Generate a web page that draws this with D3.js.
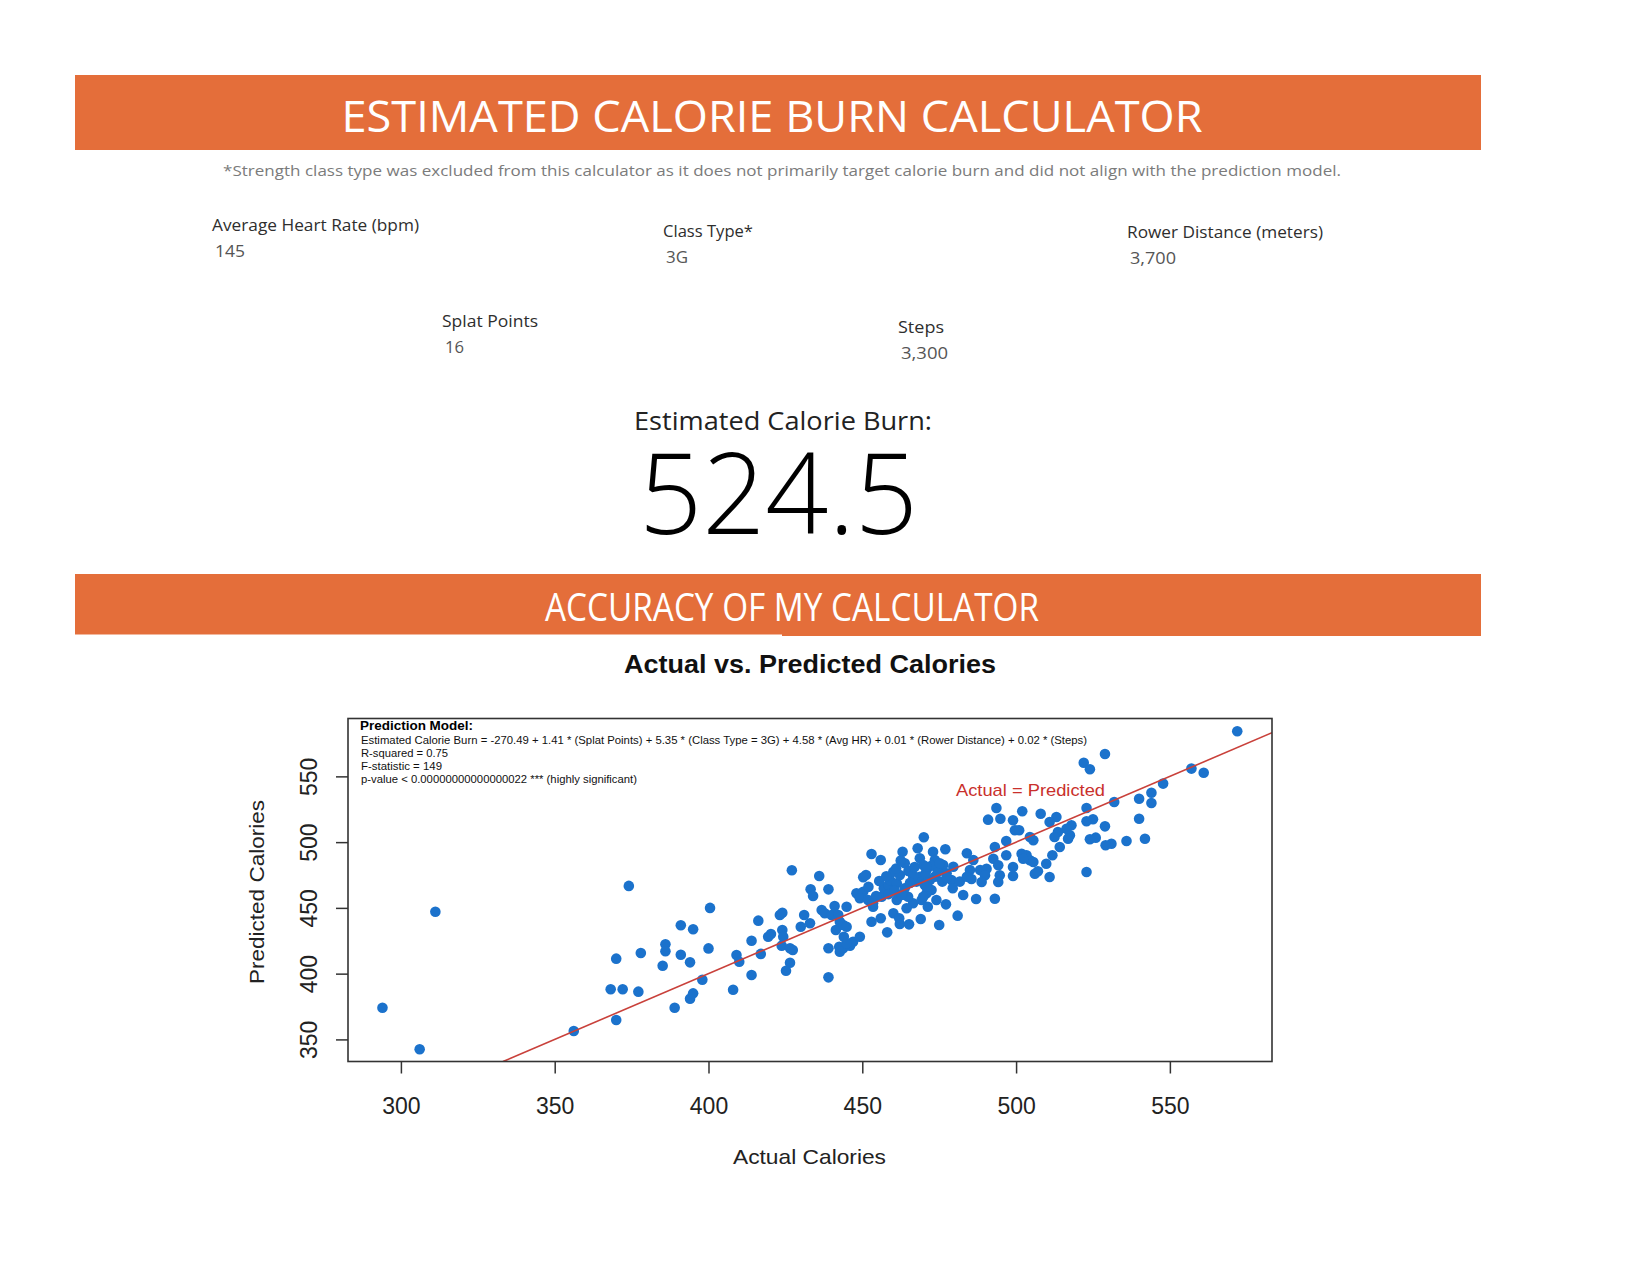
<!DOCTYPE html>
<html>
<head>
<meta charset="utf-8">
<script src="https://cdn.jsdelivr.net/npm/d3@7"></script>
<style>
  html, body { margin: 0; padding: 0; background: #ffffff; }
  svg { display: block; }
</style>
</head>
<body>
<div id="chart"></div>
<script>
// ---------------- DATA ----------------
const pageTitle = "ESTIMATED CALORIE BURN CALCULATOR";
const footnote = "*Strength class type was excluded from this calculator as it does not primarily target calorie burn and did not align with the prediction model.";
const inputLabels = ["Average Heart Rate (bpm)", "Class Type*", "Rower Distance (meters)", "Splat Points", "Steps"];
const inputValues = ["145", "3G", "3,700", "16", "3,300"];
const resultLabel = "Estimated Calorie Burn:";
const resultValue = "524.5";
const sectionTitle = "ACCURACY OF MY CALCULATOR";
const chartTitle = "Actual vs. Predicted Calories";
const xAxisLabel = "Actual Calories";
const yAxisLabel = "Predicted Calories";
const xTicks = [300, 350, 400, 450, 500, 550];
const yTicks = [350, 400, 450, 500, 550];
const modelLines = [
  "Estimated Calorie Burn = -270.49 + 1.41 * (Splat Points) + 5.35 * (Class Type = 3G) + 4.58 * (Avg HR) + 0.01 * (Rower Distance) + 0.02 * (Steps)",
  "R-squared = 0.75",
  "F-statistic = 149",
  "p-value < 0.00000000000000022 *** (highly significant)"
];
const modelHeading = "Prediction Model:";
const refLineLabel = "Actual = Predicted";

const actualCalories = [
  294.0,306.1,311.2,374.1,356.2,370.0,368.2,372.1,377.2,370.0,378.0,385.1,386.0,386.0,391.0,395.0,391.0,394.0,389.0,394.0,395.0,398.0,400.5,400.0,
  408.0,409.1,410.0,414.0,414.0,417.0,416.2,419.4,420.3,423.2,424.0,424.0,424.3,423.8,426.5,427.4,426.5,425.2,427.1,430.0,433.0,431.1,433.2,434.0,436.0,439.0,
  439.0,439.0,436.8,437.8,440.0,441.0,442.5,442.7,443.8,446.0,447.0,449.2,441.4,442.7,443.8,444.9,444.0,442.2,444.9,448.1,450.3,449.2,450.3,451.2,453.0,456.0,
  451.9,453.5,453.0,456.0,458.1,456.3,457.0,458.5,459.0,460.1,461.2,462.2,463.1,463.8,461.2,460.1,462.0,462.2,465.2,466.5,464.9,463.8,468.0,470.0,468.7,469.8,
  470.9,468.7,467.6,470.3,472.0,472.5,470.9,469.3,471.3,469.0,473.0,473.6,474.7,473.6,475.0,474.1,477.0,476.3,477.4,479.0,479.4,477.2,481.0,482.8,481.7,484.0,
  485.0,486.1,484.0,487.0,
  455.5,457.8,461.0,462.5,465.0,466.5,467.0,470.5,472.5,474.5,476.0,477.5,471.0,465.5,458.5,460.5,463.0,475.2,479.6,488.3,485.5,452.0,454.5,444.9,453.5,
  462.8,464.4,470.9,469.8,470.9,
  571.9,528.9,522.0,524.0,557.0,561.0,547.8,544.0,544.0,540.0,531.9,540.0,541.9,535.9,531.0,529.1,528.9,525.9,524.0,522.9,525.0,522.9,522.9,518.0,517.5,516.4,
  516.9,514.2,513.1,510.9,508.0,513.6,512.5,511.8,509.8,510.9,506.1,507.1,505.6,504.5,504.5,503.4,501.8,502.3,505.6,502.0,499.0,499.6,501.0,496.8,499.0,499.0,
  496.8,494.9,493.6,490.9,493.1,492.6,494.2,490.4,489.9,494.7,494.2,488.8,493.1
];
const predictedCalories = [
  374.1,342.5,447.1,466.7,356.4,364.8,388.1,388.1,386.3,411.4,415.7,406.0,422.3,417.0,436.8,433.7,414.4,408.6,374.1,381.0,385.0,395.4,450.0,419.2,
  387.8,414.2,409.1,399.0,425.0,415.0,440.3,428.1,430.2,444.6,446.3,433.2,428.1,421.3,419.3,418.0,408.3,402.2,478.6,435.7,438.3,444.6,464.1,459.0,474.3,464.1,
  397.2,419.3,448.4,445.9,444.6,451.4,420.5,416.7,419.3,421.3,424.3,428.1,433.2,439.5,437.0,435.7,428.1,444.6,450.9,461.1,462.3,457.3,473.3,475.0,491.0,486.4,
  456.0,450.9,439.5,442.1,431.4,458.5,464.9,467.4,471.2,477.5,468.7,475.0,492.7,483.9,456.0,445.9,442.1,437.8,437.5,453.5,458.5,464.9,495.3,503.7,487.7,482.6,
  478.8,473.7,470.0,467.4,471.2,463.6,461.1,456.0,450.9,441.6,492.7,486.4,480.1,473.7,437.0,456.0,494.6,482.6,476.3,471.2,464.9,452.7,444.1,459.8,470.0,491.5,
  478.8,486.4,473.7,456.8,
  470.5,474.0,480.0,486.0,478.0,474.5,481.0,476.0,482.0,477.0,470.0,473.0,469.0,469.0,460.5,463.0,460.5,483.9,481.3,478.8,472.0,466.0,459.0,423.0,453.5,
  459.8,449.7,466.1,458.5,481.3,
  584.3,567.0,560.4,555.4,555.9,552.8,544.5,537.6,529.8,533.0,530.5,517.8,502.6,500.9,498.8,497.6,512.0,503.4,502.2,526.0,517.4,515.9,477.3,512.8,505.2,510.2,
  502.6,496.3,519.1,515.3,521.6,507.7,503.9,490.0,483.6,473.5,476.0,477.8,501.4,503.9,486.2,490.0,491.2,487.4,484.9,523.5,516.6,509.0,509.0,500.9,481.1,474.3,
  490.0,517.8,526.0,517.1,496.3,487.4,482.4,479.8,474.8,474.8,469.7,469.7,457.0
];

// ---------------- PAGE ----------------
const W = 1650, H = 1275;
const ORANGE = "#E46E3A";
const TAB_FONT = "'Open Sans', 'Noto Sans', sans-serif";
const R_FONT = "'Liberation Sans', Arial, sans-serif";

const svg = d3.select("#chart").append("svg")
  .attr("width", W).attr("height", H)
  .attr("viewBox", `0 0 ${W} ${H}`);
svg.append("rect").attr("width", W).attr("height", H).attr("fill", "#ffffff");

function addText(g, o) {
  const t = g.append("text")
    .attr("x", o.x).attr("y", o.y)
    .attr("font-family", o.family || TAB_FONT)
    .attr("font-size", o.size)
    .attr("font-weight", o.weight || 400)
    .attr("fill", o.fill || "#000")
    .attr("text-anchor", o.anchor || "start")
    .text(o.text);
  if (o.len) t.attr("textLength", o.len).attr("lengthAdjust", "spacingAndGlyphs");
  if (o.transform) t.attr("transform", o.transform);
  return t;
}

// Top banner
svg.append("rect").attr("x", 75).attr("y", 75).attr("width", 1406).attr("height", 75).attr("fill", ORANGE);
addText(svg, {x: 772, y: 132, text: pageTitle, size: 43, fill: "#ffffff", anchor: "middle", len: 861});

// Footnote
addText(svg, {x: 782, y: 176, text: footnote, size: 15, fill: "#7b7b7b", anchor: "middle", len: 1118});

// Inputs
const labelPos = [[212, 231], [663, 237], [1127, 238], [442, 327], [898, 333]];
const labelLen = [207, 90, 196, 96, 46];
const valueLen = [30, 22, 46, 19, 47];
inputLabels.forEach((lab, i) => {
  const [lx, ly] = labelPos[i];
  addText(svg, {x: lx, y: ly, text: lab, size: 16.5, weight: 500, fill: "#2e2e2e", len: labelLen[i]});
  addText(svg, {x: lx + 3, y: ly + 25.5, text: inputValues[i], size: 16, fill: "#555555", len: valueLen[i]});
});

// Result
addText(svg, {x: 783, y: 430, text: resultLabel, size: 26, fill: "#222222", anchor: "middle", len: 298});
addText(svg, {x: 778.5, y: 534, text: resultValue, size: 112, weight: 300, fill: "#000000", anchor: "middle", len: 279});

// Section banner
svg.append("rect").attr("x", 75).attr("y", 574).attr("width", 1406).attr("height", 62).attr("fill", ORANGE);
svg.append("rect").attr("x", 75).attr("y", 634.5).attr("width", 707).attr("height", 1.5).attr("fill", "#ffffff");
addText(svg, {x: 792, y: 621, text: sectionTitle, size: 38, fill: "#ffffff", anchor: "middle", len: 494});

// ---------------- SCATTER ----------------
const box = {left: 348, right: 1272, top: 718.5, bottom: 1061.5};
const x = d3.scaleLinear().domain([282.8, 583.2]).range([box.left, box.right]);
const y = d3.scaleLinear().domain([333.2, 594.0]).range([box.bottom, box.top]);

addText(svg, {x: 810, y: 673, text: chartTitle, size: 25, weight: 700, family: R_FONT, fill: "#111", anchor: "middle", len: 372});

const plot = svg.append("g");
const clip = svg.append("defs").append("clipPath").attr("id", "plotclip");
clip.append("rect").attr("x", box.left).attr("y", box.top)
  .attr("width", box.right - box.left).attr("height", box.bottom - box.top);

const pts = actualCalories.map((a, i) => ({a, p: predictedCalories[i]}));
plot.append("g").attr("clip-path", "url(#plotclip)")
  .selectAll("circle").data(pts).join("circle")
  .attr("cx", d => x(d.a)).attr("cy", d => y(d.p))
  .attr("r", 5.3).attr("fill", "#1B72CC");

// reference line y = x
const lo = Math.max(x.domain()[0], y.domain()[0]);
const hi = Math.min(x.domain()[1], y.domain()[1]);
plot.append("line").attr("clip-path", "url(#plotclip)")
  .attr("x1", x(lo)).attr("y1", y(lo)).attr("x2", x(hi)).attr("y2", y(hi))
  .attr("stroke", "#C9413B").attr("stroke-width", 1.6);

// box
plot.append("rect").attr("x", box.left).attr("y", box.top)
  .attr("width", box.right - box.left).attr("height", box.bottom - box.top)
  .attr("fill", "none").attr("stroke", "#333").attr("stroke-width", 1.6);

// axes
const xAxis = svg.append("g").attr("transform", `translate(0,${box.bottom})`)
  .call(d3.axisBottom(x).tickValues(xTicks).tickSize(12).tickFormat(d3.format("d")));
xAxis.select(".domain").remove();
xAxis.selectAll(".tick line").attr("stroke", "#333").attr("stroke-width", 1.5);
xAxis.selectAll(".tick text").attr("y", 52).attr("dy", 0)
  .attr("font-family", R_FONT).attr("font-size", 23).attr("fill", "#222");

const yAxis = svg.append("g").attr("transform", `translate(${box.left},0)`)
  .call(d3.axisLeft(y).tickValues(yTicks).tickSize(12).tickFormat(d3.format("d")));
yAxis.select(".domain").remove();
yAxis.selectAll(".tick line").attr("stroke", "#333").attr("stroke-width", 1.5);
yAxis.selectAll(".tick text")
  .attr("x", 0).attr("y", -31).attr("dy", 0)
  .attr("transform", "rotate(-90)")
  .attr("text-anchor", "middle")
  .attr("font-family", R_FONT).attr("font-size", 23).attr("fill", "#222");

// axis labels
addText(svg, {x: 809.5, y: 1164, text: xAxisLabel, size: 21, family: R_FONT, fill: "#222", anchor: "middle", len: 153});
addText(svg, {x: 0, y: 0, text: yAxisLabel, size: 21, family: R_FONT, fill: "#222", anchor: "middle", len: 184,
  transform: `translate(264,892) rotate(-90)`});

// model annotation
addText(svg, {x: 360, y: 730, text: modelHeading, size: 12, weight: 700, family: R_FONT, fill: "#000", len: 113});
const modelLens = [726, 87, 81, 276];
modelLines.forEach((ln, i) => {
  addText(svg, {x: 361, y: 743.5 + i * 13.3, text: ln, size: 10.5, family: R_FONT, fill: "#111", len: modelLens[i]});
});

// ref line label
addText(svg, {x: 956, y: 796, text: refLineLabel, size: 17, family: R_FONT, fill: "#C9302C", len: 149});
</script>
</body>
</html>
